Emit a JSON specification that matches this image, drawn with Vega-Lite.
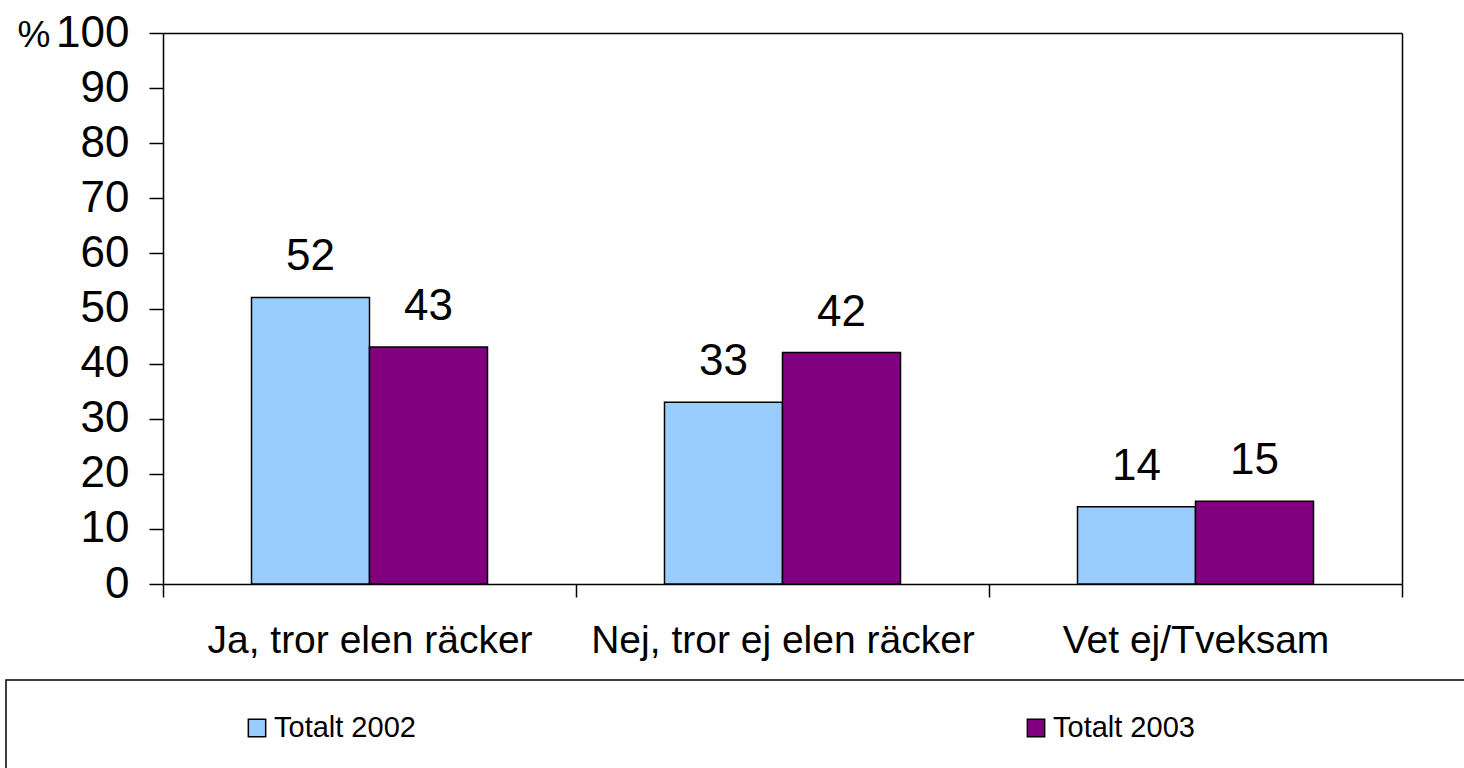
{
  "$schema": "https://vega.github.io/schema/vega-lite/v6.json",
  "background": "white",
  "padding": {"left": 5, "top": 11, "right": 0, "bottom": 0},
  "spacing": 19,
  "config": {
    "font": "Liberation Sans",
    "view": {"stroke": "black", "strokeWidth": 1.5},
    "axis": {"labelColor": "black", "titleColor": "black", "domainColor": "black", "tickColor": "black", "grid": false, "domainWidth": 1.5, "tickWidth": 1.5}
  },
  "vconcat": [
    {
      "width": 1396,
      "height": 551,
      "view": {"stroke": null},
      "data": {
        "values": [
          {"answer": "Ja, tror elen räcker", "series": "Totalt 2002", "pct": 52},
          {"answer": "Ja, tror elen räcker", "series": "Totalt 2003", "pct": 43},
          {"answer": "Nej, tror ej elen räcker", "series": "Totalt 2002", "pct": 33},
          {"answer": "Nej, tror ej elen räcker", "series": "Totalt 2003", "pct": 42},
          {"answer": "Vet ej/Tveksam", "series": "Totalt 2002", "pct": 14},
          {"answer": "Vet ej/Tveksam", "series": "Totalt 2003", "pct": 15}
        ]
      },
      "encoding": {
        "xOffset": {
          "field": "series", "type": "nominal",
          "scale": {"paddingInner": 0, "paddingOuter": 0.75}
        }
      },
      "layer": [
        {
          "mark": {"type": "bar", "stroke": "black", "strokeWidth": 1.5},
          "encoding": {
            "x": {
              "field": "answer", "type": "nominal", "sort": null,
              "scale": {"range": [157, 1396], "paddingInner": 0, "paddingOuter": 0},
              "axis": {
                "title": null, "labelAngle": 0, "labelFontSize": 39, "labelPadding": 24, "labelLimit": 1000,
                "tickBand": "extent", "tickSize": 13
              }
            },
            "y": {
              "field": "pct", "type": "quantitative",
              "scale": {"domain": [0, 100], "nice": false},
              "axis": {
                "offset": -157,
                "values": [0, 10, 20, 30, 40, 50, 60, 70, 80, 90, 100],
                "labelFontSize": 44, "labelPadding": 20, "tickSize": 14,
                "title": "%", "titleAngle": 0, "titleX": -146, "titleY": 13, "titleAlign": "left",
                "titleBaseline": "alphabetic", "titleFontSize": 37, "titleFontWeight": "normal"
              }
            },
            "color": {
              "field": "series", "type": "nominal",
              "scale": {"domain": ["Totalt 2002", "Totalt 2003"], "range": ["#99CCFF", "#800080"]},
              "legend": null
            }
          }
        },
        {
          "mark": {"type": "text", "dy": -27, "baseline": "alphabetic", "fontSize": 44, "color": "black"},
          "encoding": {
            "x": {
              "field": "answer", "type": "nominal", "sort": null,
              "scale": {"range": [157, 1396], "paddingInner": 0, "paddingOuter": 0},
              "axis": {"orient": "top", "title": null, "labels": false, "ticks": false, "domain": true}
            },
            "y": {
              "field": "pct", "type": "quantitative",
              "scale": {"domain": [0, 100], "nice": false},
              "axis": {"orient": "right", "title": null, "labels": false, "ticks": false, "domain": true}
            },
            "text": {"field": "pct", "type": "quantitative"}
          }
        }
      ],
      "resolve": {"axis": {"x": "independent", "y": "independent"}}
    },
    {
      "width": 1470,
      "height": 96,
      "data": {"values": [{"series": "Totalt 2002"}, {"series": "Totalt 2003"}]},
      "encoding": {
        "x": {"field": "series", "type": "nominal", "scale": {"type": "point", "padding": 0, "range": [251, 1030]}, "axis": null}
      },
      "layer": [
        {
          "mark": {"type": "point", "shape": "square", "filled": true, "size": 300, "stroke": "black", "strokeWidth": 1.5, "opacity": 1},
          "encoding": {
            "color": {"field": "series", "type": "nominal", "legend": null}
          }
        },
        {
          "mark": {"type": "text", "align": "left", "dx": 17, "baseline": "middle", "fontSize": 29, "color": "black"},
          "encoding": {"text": {"field": "series", "type": "nominal"}}
        }
      ]
    }
  ]
}
